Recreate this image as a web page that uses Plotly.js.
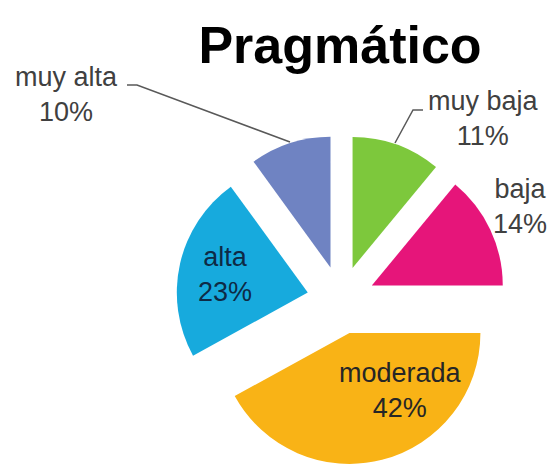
<!DOCTYPE html>
<html>
<head>
<meta charset="utf-8">
<script src="https://cdn.plot.ly/plotly-3.0.1.min.js"></script>
<style>html,body{margin:0;padding:0;background:#fff;overflow:hidden}</style>
</head>
<body>
<div id="chart" style="width:552px;height:468px"></div>
<script>
// ---- data ----
const categories = ['muy baja', 'baja', 'moderada', 'alta', 'muy alta'];
const values = [11, 14, 42, 23, 10];
const chartTitle = 'Pragmático';

// ---- styles ----
const sliceColors = ['#7dc83c', '#e6157a', '#f9b316', '#17aadd', '#6f83c2'];
const labelColors = ['#404040', '#404040', '#262626', '#0e2a45', '#404040'];
const FONT = 'Liberation Sans, Arial, sans-serif';

// layout geometry (pixels)
const M = {l: 176, r: 46, t: 135, b: 3};
const W = 552, H = 468;
const pw = W - M.l - M.r, ph = H - M.t - M.b;
const px2x = p => (p - M.l) / pw;
const px2y = p => 1 - (p - M.t) / ph;

// label block centres (pixels) and leader lines (pixels)
const labelPos = [[483, 118], [520, 206], [400, 390], [225, 274], [66, 94]];
const leaders = {
  0: [[423, 110], [413, 110], [395, 143]],
  4: [[127, 85], [137, 85], [290, 142]]
};

const total = values.reduce((a, b) => a + b, 0);

const annotations = categories.map((c, i) => ({
  xref: 'paper', yref: 'paper',
  x: px2x(labelPos[i][0]), y: px2y(labelPos[i][1]),
  xanchor: 'center', yanchor: 'middle', align: 'center',
  showarrow: false,
  text: c + '<br>' + Math.round(values[i] / total * 100) + '%',
  font: {family: FONT, size: 27, color: labelColors[i]}
}));

const shapes = Object.keys(leaders).map(k => {
  const pts = leaders[k];
  const d = pts.map((p, j) => (j ? 'L' : 'M') + px2x(p[0]) + ',' + px2y(p[1])).join(' ');
  return {type: 'path', xref: 'paper', yref: 'paper', path: d,
          line: {color: '#595959', width: 1.5}};
});

const trace = {
  type: 'pie',
  labels: categories,
  values: values,
  sort: false,
  direction: 'clockwise',
  rotation: 0,
  pull: 0.26,
  marker: {colors: sliceColors, line: {width: 0}},
  textinfo: 'none',
  hoverinfo: 'label+percent',
  showlegend: false,
  automargin: false,
  domain: {x: [0, 1], y: [0, 1]}
};

const layout = {
  width: W, height: H,
  margin: M,
  paper_bgcolor: '#ffffff',
  plot_bgcolor: '#ffffff',
  showlegend: false,
  title: {
    text: '<b>' + chartTitle + '</b>',
    font: {family: FONT, size: 52, color: '#000000'},
    xref: 'container', yref: 'container',
    x: 340 / W, xanchor: 'center',
    y: 1 - 45 / H, yanchor: 'middle'
  },
  annotations: annotations,
  shapes: shapes
};

Plotly.newPlot('chart', [trace], layout, {displayModeBar: false, staticPlot: true});
</script>
</body>
</html>
